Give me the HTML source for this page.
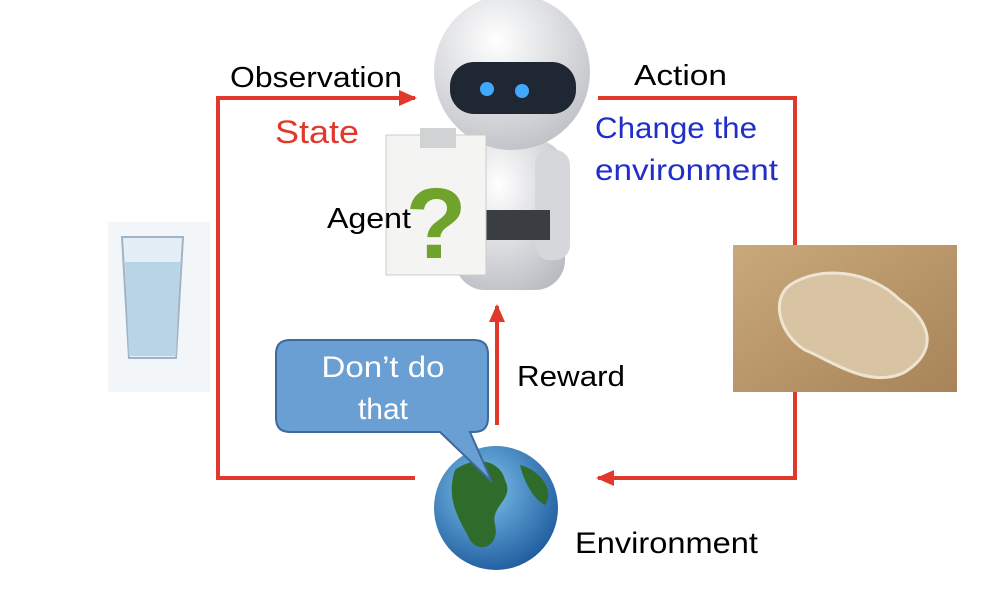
<!DOCTYPE html>
<html><head><meta charset="utf-8"><style>
html,body{margin:0;padding:0;background:#fff;}
svg{display:block;font-family:"Liberation Sans",sans-serif;}
</style></head><body>
<svg width="1000" height="590" viewBox="0 0 1000 590">
<defs>
<marker id="ah" markerWidth="18" markerHeight="16" refX="16" refY="8" orient="auto" markerUnits="userSpaceOnUse"><path d="M0,0 L18,8 L0,16 z" fill="#e0392b"/></marker>
<radialGradient id="gl" cx="0.4" cy="0.35" r="0.7"><stop offset="0" stop-color="#7fc4ee"/><stop offset="1" stop-color="#1d5a9c"/></radialGradient>
<radialGradient id="hd" cx="0.4" cy="0.3" r="0.8"><stop offset="0" stop-color="#ffffff"/><stop offset="1" stop-color="#b9bcc2"/></radialGradient>
<linearGradient id="wd" x1="0" y1="0" x2="1" y2="1"><stop offset="0" stop-color="#c9a97c"/><stop offset="1" stop-color="#a88458"/></linearGradient>
</defs>
<g stroke="#e0392b" stroke-width="4" fill="none">
<polyline points="218,480 218,98 415,98" marker-end="url(#ah)"/>
<polyline points="598,98 795,98 795,478 598,478" marker-end="url(#ah)"/>
<line x1="415" y1="478" x2="218" y2="478"/>
<line x1="497" y1="425" x2="497" y2="306" marker-end="url(#ah)"/>
</g>
<g>
<rect x="108" y="222" width="102" height="170" fill="#f3f6f9"/>
<path d="M122,237 L183,237 L176,358 L129,358 z" fill="#e4eef6" stroke="#9fb3c4" stroke-width="2"/>
<path d="M125,262 L180,262 L176,356 L129,356 z" fill="#b9d4e6"/>
</g>
<g>
<rect x="733" y="245" width="224" height="147" fill="url(#wd)"/>
<path d="M790,285 C820,265 870,270 900,300 C930,320 940,350 905,372 C870,390 830,360 805,350 C780,335 770,300 790,285 z" fill="#d8c3a3" stroke="#efe4d2" stroke-width="3"/>
</g>
<g>
<rect x="455" y="140" width="110" height="150" rx="30" fill="url(#hd)"/>
<rect x="535" y="150" width="35" height="110" rx="15" fill="#d5d7db"/>
<rect x="470" y="210" width="80" height="30" fill="#3a3d42"/>
<circle cx="512" cy="72" r="78" fill="url(#hd)"/>
<rect x="450" y="62" width="126" height="52" rx="24" fill="#1f2733"/>
<circle cx="487" cy="89" r="7" fill="#3fa8ff"/><circle cx="522" cy="91" r="7" fill="#3fa8ff"/>
</g>
<g>
<rect x="386" y="135" width="100" height="140" fill="#f4f5f2" stroke="#ccc"/>
<rect x="420" y="128" width="36" height="20" fill="#d0d2d4"/>
<text x="436" y="258" font-size="100" font-weight="bold" fill="#6fa32b" text-anchor="middle">?</text>
</g>
<text x="230" y="87" font-size="29" textLength="172" lengthAdjust="spacingAndGlyphs" fill="#000">Observation</text>
<text x="275" y="143" font-size="32" textLength="84" lengthAdjust="spacingAndGlyphs" fill="#e0392b">State</text>
<text x="634" y="85" font-size="29" textLength="93" lengthAdjust="spacingAndGlyphs" fill="#000">Action</text>
<text x="595" y="138" font-size="30" textLength="162" lengthAdjust="spacingAndGlyphs" fill="#1f2fc8">Change the</text>
<text x="595" y="180" font-size="30" textLength="183" lengthAdjust="spacingAndGlyphs" fill="#1f2fc8">environment</text>
<text x="327" y="228" font-size="29" textLength="84" lengthAdjust="spacingAndGlyphs" fill="#000">Agent</text>
<text x="517" y="386" font-size="29" textLength="108" lengthAdjust="spacingAndGlyphs" fill="#000">Reward</text>
<g>
<circle cx="496" cy="508" r="62" fill="url(#gl)"/>
<path d="M455,470 C475,455 500,460 505,480 C515,500 490,505 495,525 C500,545 480,555 470,540 C460,520 445,500 455,470 z" fill="#2f6b2a"/>
<path d="M520,465 C540,470 555,490 545,505 C535,500 525,485 520,465 z" fill="#2f6b2a"/>
</g>
<g>
<path d="M290,340 L474,340 Q488,340 488,354 L488,418 Q488,432 474,432 L470,432 L492,482 L440,432 L290,432 Q276,432 276,418 L276,354 Q276,340 290,340 z" fill="#6a9fd4" stroke="#3c6a9c" stroke-width="2"/>
<text x="383" y="377" font-size="30" textLength="123" fill="#fff" text-anchor="middle" lengthAdjust="spacingAndGlyphs">Don’t do</text>
<text x="383" y="419" font-size="30" fill="#fff" text-anchor="middle">that</text>
</g>
<text x="575" y="553" font-size="30" textLength="183" lengthAdjust="spacingAndGlyphs" fill="#000">Environment</text>
</svg>
</body></html>
